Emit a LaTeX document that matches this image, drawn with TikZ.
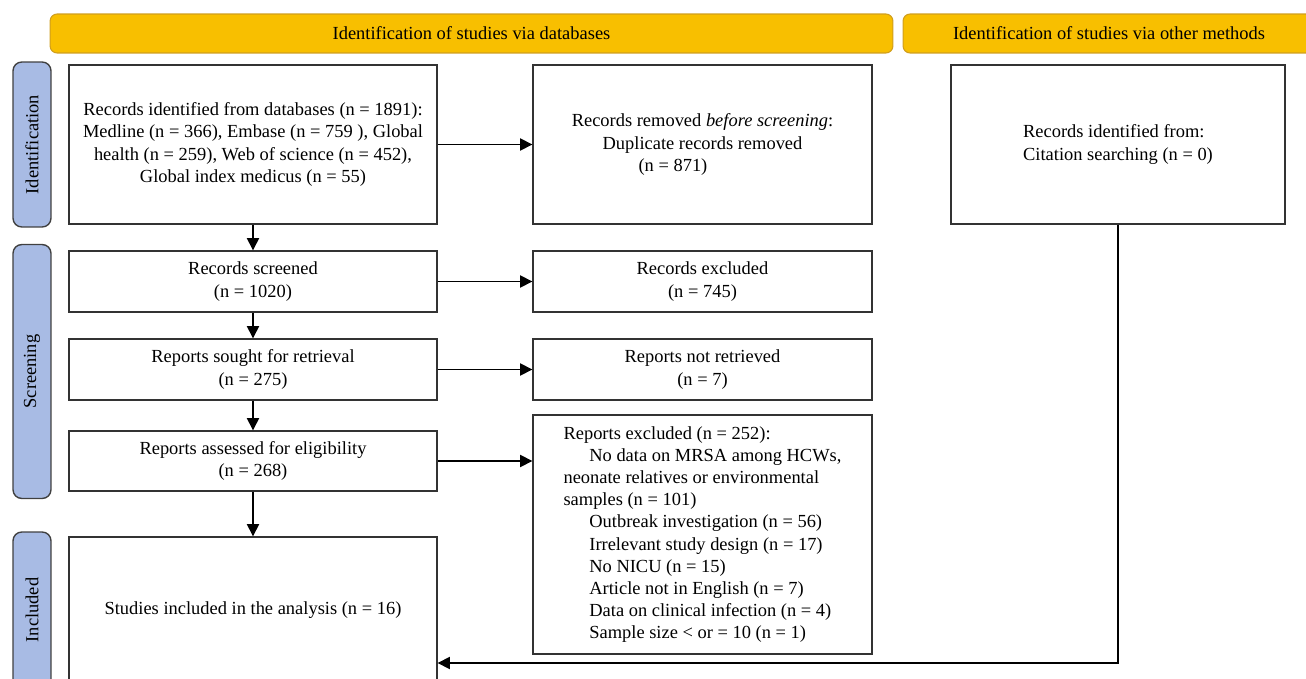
\documentclass[tikz,border=0pt]{standalone}
\usepackage{fontspec}
\setmainfont{Liberation Serif}
\usetikzlibrary{arrows.meta}
\definecolor{headyellow}{HTML}{F8BF00}
\definecolor{headedge}{HTML}{D09E1E}
\definecolor{sideblue}{HTML}{A8BBE4}
\tikzset{
  box/.style={shape=rectangle,draw=black!80,line width=0.8pt,fill=white,align=center,font=\fontsize{10.5}{12.6}\selectfont,inner sep=2pt},
  header/.style={shape=rectangle,rounded corners=4pt,draw=headedge,fill=headyellow,line width=0.6pt,font=\fontsize{10.5}{12.6}\selectfont,minimum height=0.78cm},
  sidebar/.style={shape=rectangle,rounded corners=5pt,draw=black!75,fill=sideblue,line width=0.8pt,minimum width=0.76cm,font=\fontsize{10.5}{12.6}\selectfont},
  arrow/.style={-{Triangle[length=7pt,width=7pt]},line width=0.8pt}
}
\begin{document}
\begin{tikzpicture}[x=0.02cm,y=-0.02cm]
\useasboundingbox (0,0) rectangle (1306,679);
\clip (0,0) rectangle (1306,679);
\node[header,minimum width=16.86cm] (hdb) at (471.5,33.5) {Identification of studies via databases};
\node[header,minimum width=8.24cm] (hoth) at (1109,33.5) {Identification of studies via other methods};
\node[sidebar,minimum height=3.3cm] (sid) at (32,144.5) {\rotatebox{90}{Identification}};
\node[sidebar,minimum height=5.08cm] (sscr) at (32,371.5) {\rotatebox{90}{Screening}};
\node[sidebar,minimum height=3.12cm] (sinc) at (32,610) {\rotatebox{90}{Included}};
\node[box,minimum width=7.36cm,minimum height=3.18cm] (ident) at (253,144.5) {Records identified from databases (n = 1891):\\Medline (n = 366), Embase (n = 759 ), Global\\health (n = 259), Web of science (n = 452),\\Global index medicus (n = 55)};
\node[box,minimum width=6.78cm,minimum height=3.18cm] (removed) at (702.5,144.5) {Records removed \textit{before screening}:\\Duplicate records removed\\(n = 871)\hspace*{3.2em}};
\node[box,minimum width=6.68cm,minimum height=3.18cm,align=left] (other) at (1118,144.5) {Records identified from:\\Citation searching (n = 0)};
\node[box,minimum width=7.36cm,minimum height=1.22cm] (screened) at (253,281.5) {Records screened\\(n = 1020)};
\node[box,minimum width=6.78cm,minimum height=1.22cm] (excluded) at (702.5,281.5) {Records excluded\\(n = 745)};
\node[box,minimum width=7.36cm,minimum height=1.22cm] (sought) at (253,369.5) {Reports sought for retrieval\\(n = 275)};
\node[box,minimum width=6.78cm,minimum height=1.22cm] (notret) at (702.5,369.5) {Reports not retrieved\\(n = 7)};
\node[box,minimum width=7.36cm,minimum height=1.2cm] (assessed) at (253,461) {Reports assessed for eligibility\\(n = 268)};
\node[box,minimum width=6.78cm,minimum height=4.78cm,align=left] (repexcl) at (702.5,534.5) {Reports excluded (n = 252):\\
\hspace*{1.4em}No data on MRSA among HCWs,\\neonate relatives or environmental\\samples (n = 101)\\
\hspace*{1.4em}Outbreak investigation (n = 56)\\
\hspace*{1.4em}Irrelevant study design (n = 17)\\
\hspace*{1.4em}No NICU (n = 15)\\
\hspace*{1.4em}Article not in English (n = 7)\\
\hspace*{1.4em}Data on clinical infection (n = 4)\\
\hspace*{1.4em}Sample size < or = 10 (n = 1)};
\node[box,minimum width=7.36cm,minimum height=2.92cm] (included) at (253,610) {Studies included in the analysis (n = 16)};
\coordinate (back) at (1118,663);
\draw[arrow] (ident) -- (removed);
\draw[arrow] (ident) -- (screened);
\draw[arrow] (screened) -- (excluded);
\draw[arrow] (screened) -- (sought);
\draw[arrow] (sought) -- (notret);
\draw[arrow] (sought) -- (assessed);
\draw[arrow] (assessed) -- (assessed -| repexcl.west);
\draw[arrow] (assessed) -- (included);
\draw[arrow] (other) -- (back) -- (included.east |- back);
\end{tikzpicture}
\end{document}
